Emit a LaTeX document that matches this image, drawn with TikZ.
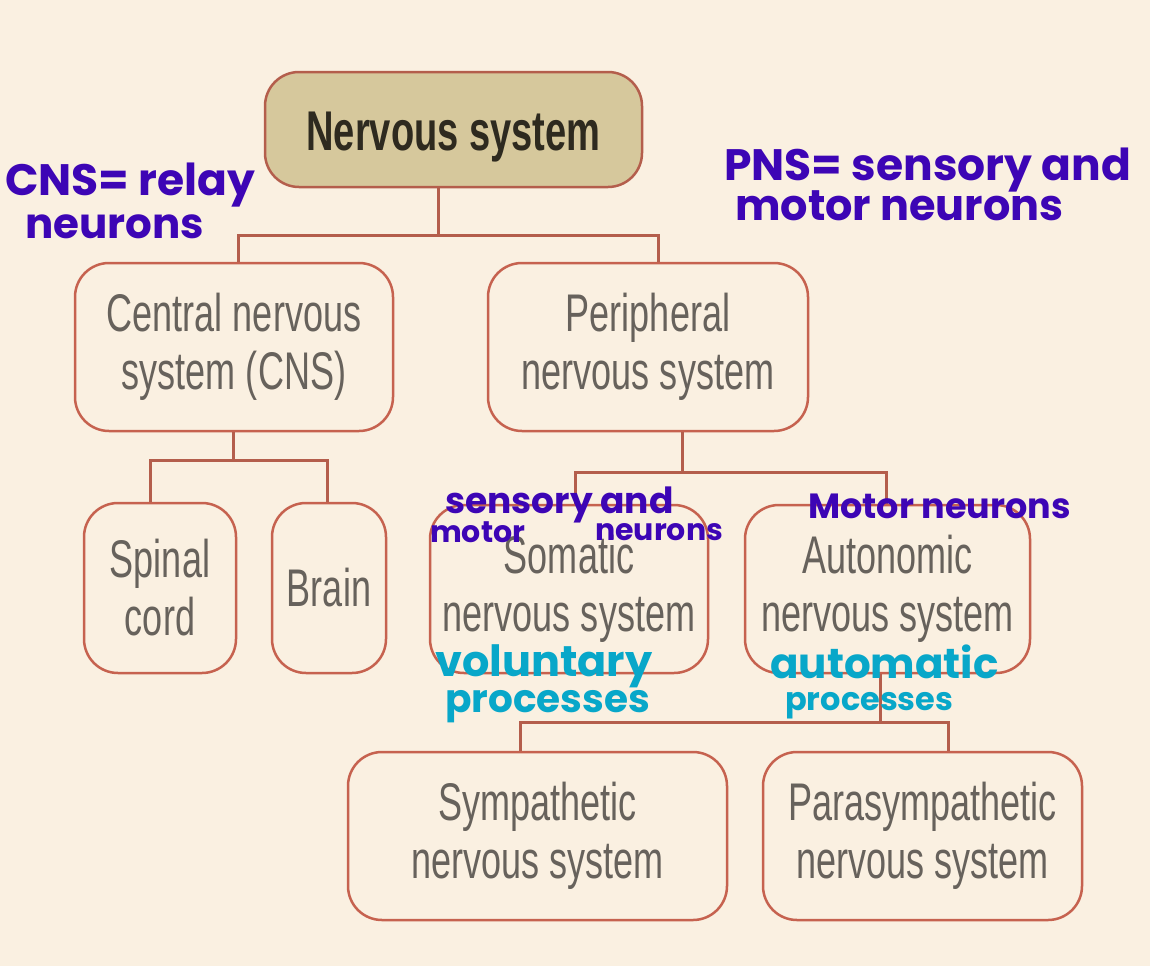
\documentclass[tikz,border=0pt]{standalone}
\usepackage{fontspec}
\setmainfont{Liberation Sans}
\newfontfamily\boxfont[FakeStretch=0.68]{Liberation Sans}
\newfontfamily\handfont{Poppins}
\definecolor{bg}{HTML}{FAF0E1}
\definecolor{tan}{HTML}{D6C89C}
\definecolor{boxline}{HTML}{C6624F}
\definecolor{connline}{HTML}{B45E4C}
\definecolor{boxtext}{HTML}{67625C}
\definecolor{titletext}{HTML}{2E2A1F}
\definecolor{inkpurple}{HTML}{3D05B5}
\definecolor{inkcyan}{HTML}{08A7C9}
\tikzset{
  box/.style={draw=boxline, line width=2.5pt, rounded corners=34pt, fill=bg,
    align=center, inner sep=0pt, text=boxtext,
    font=\boxfont\fontsize{53}{58}\selectfont},
  titlebox/.style={box, fill=tan, draw=connline, text=titletext,
    text height=41pt, text depth=0pt,
    font=\boxfont\bfseries\fontsize{56}{60}\selectfont},
  conn/.style={draw=connline, line width=3pt},
  inkp/.style={text=inkpurple, inner sep=0pt, anchor=base west},
  inkc/.style={text=inkcyan, inner sep=0pt, anchor=base west}
}
\begin{document}
\begin{tikzpicture}[x=1pt,y=-1pt]
\fill[bg] (0,0) rectangle (1150,966);
\useasboundingbox (0,0) rectangle (1150,966);

% boxes
\node[titlebox, minimum width=377pt, minimum height=115pt] (ns) at (453.5,129.5) {Nervous system};
\node[box, minimum width=318pt, minimum height=168pt] (cns) at (234,347) {Central nervous\\system (CNS)};
\node[box, minimum width=320pt, minimum height=168pt] (pns) at (648,347) {Peripheral\\nervous system};
\node[box, minimum width=152pt, minimum height=170pt] (spinal) at (160,588) {Spinal\\cord};
\node[box, minimum width=114pt, minimum height=170pt] (brain) at (329,588) {Brain};
\node[box, minimum width=278pt, minimum height=168pt] (somatic) at (569,589) {Somatic\\nervous system};
\node[box, minimum width=285pt, minimum height=168pt] (auto) at (887.5,589) {Autonomic\\nervous system};
\node[box, minimum width=379pt, minimum height=168pt] (symp) at (537.5,836) {Sympathetic\\nervous system};
\node[box, minimum width=319pt, minimum height=168pt] (para) at (922.5,836) {Parasympathetic\\nervous system};

% connectors
\coordinate (b1) at (438,235);
\draw[conn] (ns.south -| b1) -- (b1);
\draw[conn] ([xshift=4pt]cns.north) |- (b1) -| ([xshift=10pt]pns.north);

\coordinate (b2) at (233,460);
\draw[conn] (cns.south -| b2) -- (b2);
\draw[conn] ([xshift=-10pt]spinal.north) |- (b2) -| ([xshift=-2pt]brain.north);

\coordinate (b3) at (682,472);
\draw[conn] (pns.south -| b3) -- (b3);
\draw[conn] ([xshift=6pt]somatic.north) |- (b3) -| ([xshift=-1pt]auto.north);

\coordinate (b4) at (880,722);
\draw[conn] (auto.south -| b4) -- (b4);
\draw[conn] ([xshift=-17pt]symp.north) |- (b4) -| ([xshift=26pt]para.north);

% handwritten annotations
\node[inkp, font=\handfont\bfseries\fontsize{44}{44}\selectfont] (a1) at (5,195) {CNS= relay};
\node[inkp, font=\handfont\bfseries\fontsize{42}{42}\selectfont] (a2) at (25,238) {neurons};
\node[inkp, font=\handfont\bfseries\fontsize{44}{44}\selectfont] (a3) at (724,180) {PNS= sensory and};
\node[inkp, font=\handfont\bfseries\fontsize{43}{43}\selectfont] (a4) at (735,220) {motor neurons};
\node[inkp, font=\handfont\bfseries\fontsize{36}{36}\selectfont] (a5) at (445,513) {sensory and};
\node[inkp, font=\handfont\bfseries\fontsize{30}{30}\selectfont] (a6) at (430,542) {motor};
\node[inkp, font=\handfont\bfseries\fontsize{30}{30}\selectfont] (a7) at (595,540) {neurons};
\node[inkp, font=\handfont\bfseries\fontsize{35}{35}\selectfont] (a8) at (808,518) {Motor neurons};
\node[inkc, font=\handfont\bfseries\fontsize{43}{43}\selectfont] (a9) at (435,676) {voluntary};
\node[inkc, font=\handfont\bfseries\fontsize{39}{39}\selectfont] (a10) at (445,712) {processes};
\node[inkc, font=\handfont\bfseries\fontsize{42}{42}\selectfont] (a11) at (770,678) {automatic};
\node[inkc, font=\handfont\bfseries\fontsize{32}{32}\selectfont] (a12) at (785,710) {processes};
\end{tikzpicture}
\end{document}
